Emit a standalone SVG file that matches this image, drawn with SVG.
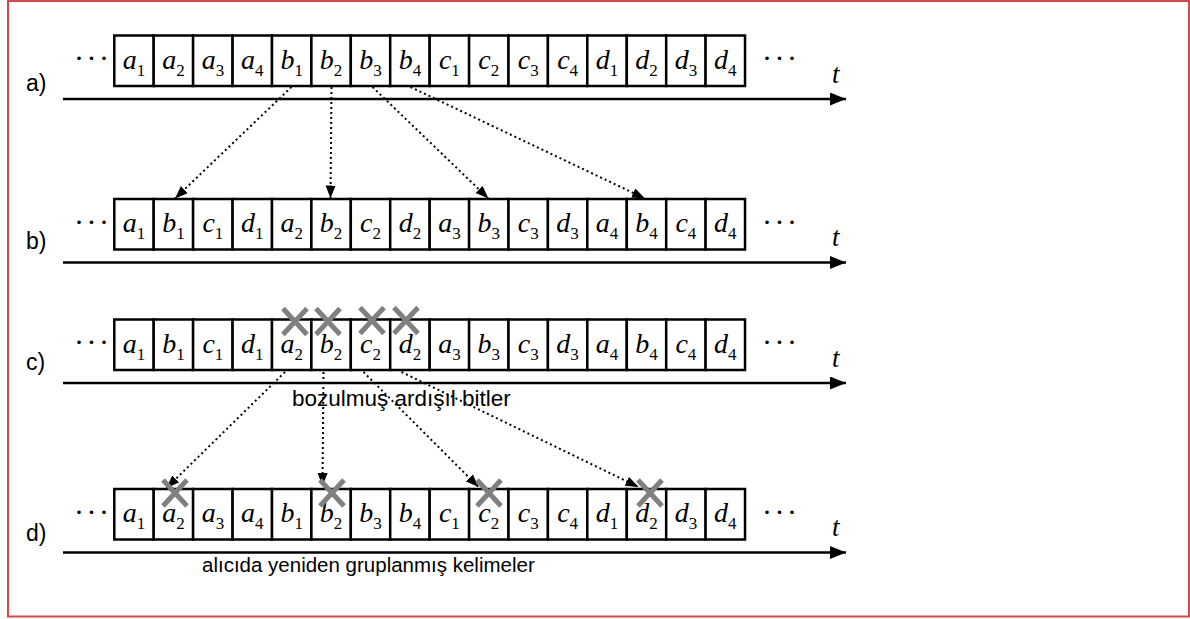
<svg xmlns="http://www.w3.org/2000/svg" width="1190" height="619" viewBox="0 0 1190 619">
<style>
.cell rect{fill:#fff;stroke:#000;stroke-width:2.5}
.cell text{font-family:"Liberation Serif","Times New Roman",serif;font-style:italic;font-size:28px;text-anchor:middle;fill:#000}
.cell .s{font-style:normal;font-size:17px}
.lbl{font-family:"Liberation Sans",Arial,sans-serif;fill:#000}
.rl{font-family:"Liberation Sans",Arial,sans-serif;font-size:23px;fill:#000}
.dots{font-family:"Liberation Serif","Times New Roman",serif;font-size:30px;letter-spacing:2.5px;fill:#000}
.t{font-family:"Liberation Serif","Times New Roman",serif;font-style:italic;font-size:27px;fill:#000}
.axis{stroke:#000;stroke-width:2.6;fill:none}
.dotted{stroke:#000;stroke-width:2;stroke-dasharray:2 3;fill:none}
.x{stroke:#808080;stroke-width:5;stroke-linecap:butt}
</style>
<defs>
<marker id="ah" markerUnits="userSpaceOnUse" markerWidth="16" markerHeight="14" refX="16" refY="6.5" orient="auto"><path d="M0,0 L16,6.5 L0,13 z" fill="#000"/></marker>
<marker id="dh" markerUnits="userSpaceOnUse" markerWidth="14" markerHeight="11" refX="13" refY="5" orient="auto"><path d="M0,0 L13,5 L0,10 z" fill="#000"/></marker>
</defs>
<rect id="frame" x="8" y="1" width="1181" height="615.5" fill="#fff" stroke="#d44a4a" stroke-width="2"/>

<g id="labels">
<text class="rl" x="26" y="91">a)</text>
<text class="rl" x="26" y="249">b)</text>
<text class="rl" x="26" y="370">c)</text>
<text class="rl" x="26" y="541">d)</text>
<text class="dots" x="74" y="68">···</text>
<text class="dots" x="762" y="68">···</text>
<text class="dots" x="74" y="231.5">···</text>
<text class="dots" x="762" y="231.5">···</text>
<text class="dots" x="74" y="352">···</text>
<text class="dots" x="762" y="352">···</text>
<text class="dots" x="74" y="521.5">···</text>
<text class="dots" x="762" y="521.5">···</text>
<text class="t" x="832" y="83">t</text>
<text class="t" x="832" y="246">t</text>
<text class="t" x="832" y="367">t</text>
<text class="t" x="832" y="536">t</text>
<text class="lbl" x="292" y="406" font-size="22.5">bozulmuş ardışıl bitler</text>
<text class="lbl" x="202" y="572" font-size="20.5">alıcıda yeniden gruplanmış kelimeler</text>
</g>

<g id="row-a" class="cell">
<g id="a01"><rect x="114.3" y="35.5" width="39.42" height="50.5"/><text x="134.0" y="68.5">a<tspan class="s" dy="7">1</tspan></text></g>
<g id="a02"><rect x="153.7" y="35.5" width="39.42" height="50.5"/><text x="173.4" y="68.5">a<tspan class="s" dy="7">2</tspan></text></g>
<g id="a03"><rect x="193.1" y="35.5" width="39.42" height="50.5"/><text x="212.9" y="68.5">a<tspan class="s" dy="7">3</tspan></text></g>
<g id="a04"><rect x="232.6" y="35.5" width="39.42" height="50.5"/><text x="252.3" y="68.5">a<tspan class="s" dy="7">4</tspan></text></g>
<g id="a05"><rect x="272.0" y="35.5" width="39.42" height="50.5"/><text x="291.7" y="68.5">b<tspan class="s" dy="7">1</tspan></text></g>
<g id="a06"><rect x="311.4" y="35.5" width="39.42" height="50.5"/><text x="331.1" y="68.5">b<tspan class="s" dy="7">2</tspan></text></g>
<g id="a07"><rect x="350.8" y="35.5" width="39.42" height="50.5"/><text x="370.5" y="68.5">b<tspan class="s" dy="7">3</tspan></text></g>
<g id="a08"><rect x="390.2" y="35.5" width="39.42" height="50.5"/><text x="409.9" y="68.5">b<tspan class="s" dy="7">4</tspan></text></g>
<g id="a09"><rect x="429.7" y="35.5" width="39.42" height="50.5"/><text x="449.4" y="68.5">c<tspan class="s" dy="7">1</tspan></text></g>
<g id="a10"><rect x="469.1" y="35.5" width="39.42" height="50.5"/><text x="488.8" y="68.5">c<tspan class="s" dy="7">2</tspan></text></g>
<g id="a11"><rect x="508.5" y="35.5" width="39.42" height="50.5"/><text x="528.2" y="68.5">c<tspan class="s" dy="7">3</tspan></text></g>
<g id="a12"><rect x="547.9" y="35.5" width="39.42" height="50.5"/><text x="567.6" y="68.5">c<tspan class="s" dy="7">4</tspan></text></g>
<g id="a13"><rect x="587.3" y="35.5" width="39.42" height="50.5"/><text x="607.0" y="68.5">d<tspan class="s" dy="7">1</tspan></text></g>
<g id="a14"><rect x="626.8" y="35.5" width="39.42" height="50.5"/><text x="646.5" y="68.5">d<tspan class="s" dy="7">2</tspan></text></g>
<g id="a15"><rect x="666.2" y="35.5" width="39.42" height="50.5"/><text x="685.9" y="68.5">d<tspan class="s" dy="7">3</tspan></text></g>
<g id="a16"><rect x="705.6" y="35.5" width="39.42" height="50.5"/><text x="725.3" y="68.5">d<tspan class="s" dy="7">4</tspan></text></g>
</g>

<g id="row-b" class="cell">
<g id="b01"><rect x="114.3" y="199" width="39.42" height="50.5"/><text x="134.0" y="232">a<tspan class="s" dy="7">1</tspan></text></g>
<g id="b02"><rect x="153.7" y="199" width="39.42" height="50.5"/><text x="173.4" y="232">b<tspan class="s" dy="7">1</tspan></text></g>
<g id="b03"><rect x="193.1" y="199" width="39.42" height="50.5"/><text x="212.9" y="232">c<tspan class="s" dy="7">1</tspan></text></g>
<g id="b04"><rect x="232.6" y="199" width="39.42" height="50.5"/><text x="252.3" y="232">d<tspan class="s" dy="7">1</tspan></text></g>
<g id="b05"><rect x="272.0" y="199" width="39.42" height="50.5"/><text x="291.7" y="232">a<tspan class="s" dy="7">2</tspan></text></g>
<g id="b06"><rect x="311.4" y="199" width="39.42" height="50.5"/><text x="331.1" y="232">b<tspan class="s" dy="7">2</tspan></text></g>
<g id="b07"><rect x="350.8" y="199" width="39.42" height="50.5"/><text x="370.5" y="232">c<tspan class="s" dy="7">2</tspan></text></g>
<g id="b08"><rect x="390.2" y="199" width="39.42" height="50.5"/><text x="409.9" y="232">d<tspan class="s" dy="7">2</tspan></text></g>
<g id="b09"><rect x="429.7" y="199" width="39.42" height="50.5"/><text x="449.4" y="232">a<tspan class="s" dy="7">3</tspan></text></g>
<g id="b10"><rect x="469.1" y="199" width="39.42" height="50.5"/><text x="488.8" y="232">b<tspan class="s" dy="7">3</tspan></text></g>
<g id="b11"><rect x="508.5" y="199" width="39.42" height="50.5"/><text x="528.2" y="232">c<tspan class="s" dy="7">3</tspan></text></g>
<g id="b12"><rect x="547.9" y="199" width="39.42" height="50.5"/><text x="567.6" y="232">d<tspan class="s" dy="7">3</tspan></text></g>
<g id="b13"><rect x="587.3" y="199" width="39.42" height="50.5"/><text x="607.0" y="232">a<tspan class="s" dy="7">4</tspan></text></g>
<g id="b14"><rect x="626.8" y="199" width="39.42" height="50.5"/><text x="646.5" y="232">b<tspan class="s" dy="7">4</tspan></text></g>
<g id="b15"><rect x="666.2" y="199" width="39.42" height="50.5"/><text x="685.9" y="232">c<tspan class="s" dy="7">4</tspan></text></g>
<g id="b16"><rect x="705.6" y="199" width="39.42" height="50.5"/><text x="725.3" y="232">d<tspan class="s" dy="7">4</tspan></text></g>
</g>

<g id="row-c" class="cell">
<g id="c01"><rect x="114.3" y="319.5" width="39.42" height="50.5"/><text x="134.0" y="352.5">a<tspan class="s" dy="7">1</tspan></text></g>
<g id="c02"><rect x="153.7" y="319.5" width="39.42" height="50.5"/><text x="173.4" y="352.5">b<tspan class="s" dy="7">1</tspan></text></g>
<g id="c03"><rect x="193.1" y="319.5" width="39.42" height="50.5"/><text x="212.9" y="352.5">c<tspan class="s" dy="7">1</tspan></text></g>
<g id="c04"><rect x="232.6" y="319.5" width="39.42" height="50.5"/><text x="252.3" y="352.5">d<tspan class="s" dy="7">1</tspan></text></g>
<g id="c05"><rect x="272.0" y="319.5" width="39.42" height="50.5"/><text x="291.7" y="352.5">a<tspan class="s" dy="7">2</tspan></text></g>
<g id="c06"><rect x="311.4" y="319.5" width="39.42" height="50.5"/><text x="331.1" y="352.5">b<tspan class="s" dy="7">2</tspan></text></g>
<g id="c07"><rect x="350.8" y="319.5" width="39.42" height="50.5"/><text x="370.5" y="352.5">c<tspan class="s" dy="7">2</tspan></text></g>
<g id="c08"><rect x="390.2" y="319.5" width="39.42" height="50.5"/><text x="409.9" y="352.5">d<tspan class="s" dy="7">2</tspan></text></g>
<g id="c09"><rect x="429.7" y="319.5" width="39.42" height="50.5"/><text x="449.4" y="352.5">a<tspan class="s" dy="7">3</tspan></text></g>
<g id="c10"><rect x="469.1" y="319.5" width="39.42" height="50.5"/><text x="488.8" y="352.5">b<tspan class="s" dy="7">3</tspan></text></g>
<g id="c11"><rect x="508.5" y="319.5" width="39.42" height="50.5"/><text x="528.2" y="352.5">c<tspan class="s" dy="7">3</tspan></text></g>
<g id="c12"><rect x="547.9" y="319.5" width="39.42" height="50.5"/><text x="567.6" y="352.5">d<tspan class="s" dy="7">3</tspan></text></g>
<g id="c13"><rect x="587.3" y="319.5" width="39.42" height="50.5"/><text x="607.0" y="352.5">a<tspan class="s" dy="7">4</tspan></text></g>
<g id="c14"><rect x="626.8" y="319.5" width="39.42" height="50.5"/><text x="646.5" y="352.5">b<tspan class="s" dy="7">4</tspan></text></g>
<g id="c15"><rect x="666.2" y="319.5" width="39.42" height="50.5"/><text x="685.9" y="352.5">c<tspan class="s" dy="7">4</tspan></text></g>
<g id="c16"><rect x="705.6" y="319.5" width="39.42" height="50.5"/><text x="725.3" y="352.5">d<tspan class="s" dy="7">4</tspan></text></g>
</g>

<g id="row-d" class="cell">
<g id="d01"><rect x="114.3" y="489" width="39.42" height="50.5"/><text x="134.0" y="522">a<tspan class="s" dy="7">1</tspan></text></g>
<g id="d02"><rect x="153.7" y="489" width="39.42" height="50.5"/><text x="173.4" y="522">a<tspan class="s" dy="7">2</tspan></text></g>
<g id="d03"><rect x="193.1" y="489" width="39.42" height="50.5"/><text x="212.9" y="522">a<tspan class="s" dy="7">3</tspan></text></g>
<g id="d04"><rect x="232.6" y="489" width="39.42" height="50.5"/><text x="252.3" y="522">a<tspan class="s" dy="7">4</tspan></text></g>
<g id="d05"><rect x="272.0" y="489" width="39.42" height="50.5"/><text x="291.7" y="522">b<tspan class="s" dy="7">1</tspan></text></g>
<g id="d06"><rect x="311.4" y="489" width="39.42" height="50.5"/><text x="331.1" y="522">b<tspan class="s" dy="7">2</tspan></text></g>
<g id="d07"><rect x="350.8" y="489" width="39.42" height="50.5"/><text x="370.5" y="522">b<tspan class="s" dy="7">3</tspan></text></g>
<g id="d08"><rect x="390.2" y="489" width="39.42" height="50.5"/><text x="409.9" y="522">b<tspan class="s" dy="7">4</tspan></text></g>
<g id="d09"><rect x="429.7" y="489" width="39.42" height="50.5"/><text x="449.4" y="522">c<tspan class="s" dy="7">1</tspan></text></g>
<g id="d10"><rect x="469.1" y="489" width="39.42" height="50.5"/><text x="488.8" y="522">c<tspan class="s" dy="7">2</tspan></text></g>
<g id="d11"><rect x="508.5" y="489" width="39.42" height="50.5"/><text x="528.2" y="522">c<tspan class="s" dy="7">3</tspan></text></g>
<g id="d12"><rect x="547.9" y="489" width="39.42" height="50.5"/><text x="567.6" y="522">c<tspan class="s" dy="7">4</tspan></text></g>
<g id="d13"><rect x="587.3" y="489" width="39.42" height="50.5"/><text x="607.0" y="522">d<tspan class="s" dy="7">1</tspan></text></g>
<g id="d14"><rect x="626.8" y="489" width="39.42" height="50.5"/><text x="646.5" y="522">d<tspan class="s" dy="7">2</tspan></text></g>
<g id="d15"><rect x="666.2" y="489" width="39.42" height="50.5"/><text x="685.9" y="522">d<tspan class="s" dy="7">3</tspan></text></g>
<g id="d16"><rect x="705.6" y="489" width="39.42" height="50.5"/><text x="725.3" y="522">d<tspan class="s" dy="7">4</tspan></text></g>
</g>

<g id="connectors">
<line class="axis" x1="63" y1="99" x2="846" y2="99" marker-end="url(#ah)"/>
<line class="axis" x1="63" y1="262.5" x2="846" y2="262.5" marker-end="url(#ah)"/>
<line class="axis" x1="63" y1="383" x2="846" y2="383" marker-end="url(#ah)"/>
<line class="axis" x1="63" y1="552.5" x2="846" y2="552.5" marker-end="url(#ah)"/>
<line class="dotted" x1="291.5" y1="87" x2="175" y2="198.5" marker-end="url(#dh)"/>
<line class="dotted" x1="331.5" y1="87" x2="330.5" y2="198.5" marker-end="url(#dh)"/>
<line class="dotted" x1="372.5" y1="87" x2="488.5" y2="198.5" marker-end="url(#dh)"/>
<line class="dotted" x1="410.5" y1="87" x2="645" y2="198.5" marker-end="url(#dh)"/>
<line class="dotted" x1="285" y1="372" x2="166.5" y2="488" marker-end="url(#dh)"/>
<line class="dotted" x1="323.5" y1="372" x2="322.5" y2="486" marker-end="url(#dh)"/>
<line class="dotted" x1="363.5" y1="372" x2="478.5" y2="487" marker-end="url(#dh)"/>
<line class="dotted" x1="401.5" y1="372" x2="638.5" y2="487" marker-end="url(#dh)"/>
</g>

<g id="errors">
<path class="x" d="M283,308.5 L307,334.5 M307,308.5 L283,334.5"/>
<path class="x" d="M316,308.5 L340,334.5 M340,308.5 L316,334.5"/>
<path class="x" d="M360,307.5 L384,333.5 M384,307.5 L360,333.5"/>
<path class="x" d="M394,307.5 L418,333.5 M418,307.5 L394,333.5"/>
<path class="x" d="M163,480 L187,506 M187,480 L163,506"/>
<path class="x" d="M320,480 L344,506 M344,480 L320,506"/>
<path class="x" d="M477,480 L501,506 M501,480 L477,506"/>
<path class="x" d="M638,480 L662,506 M662,480 L638,506"/>
</g>
</svg>
